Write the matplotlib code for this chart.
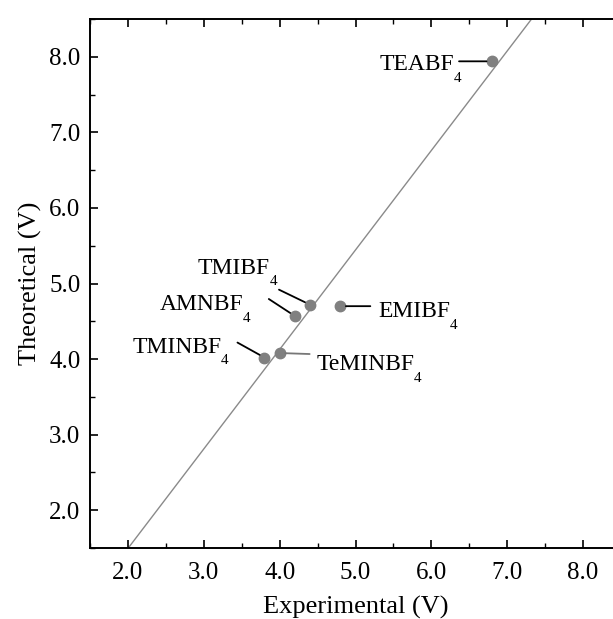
import numpy as np
import matplotlib
matplotlib.use('Agg')
import matplotlib.pyplot as plt
from matplotlib.ticker import MultipleLocator, FormatStrFormatter

plt.rcParams['font.family'] = ['Liberation Serif', 'DejaVu Serif']

# data
names = ['TEABF', 'TMIBF', 'AMNBF', 'EMIBF', 'TMINBF', 'TeMINBF']
experimental = [6.8, 4.4, 4.2, 4.8, 3.8, 4.0]
theoretical = [7.94, 4.72, 4.57, 4.70, 4.02, 4.08]

# label layout, pixel offsets from the point: (text dx, text dy, leader dx, leader dy, ha)
layout = {
    'TEABF':   (-38, -9, -33, 0, 'right'),
    'TMIBF':   (-112, 31, -31, 15, 'left'),
    'AMNBF':   (-135, 6, -26, 17, 'left'),
    'EMIBF':   (38, -11, 30, 0, 'left'),
    'TMINBF':  (-132, 5, -27, 15, 'left'),
    'TeMINBF': (37, -17, 30, -1, 'left'),
}

fig = plt.figure(figsize=(6.13, 6.19), dpi=100)
ax = fig.add_axes([90 / 613, 71 / 619, 531 / 613, 529 / 619])

x = np.array(experimental)
y = np.array(theoretical)

# least squares fit line across the whole frame
k, b = np.polyfit(x, y, 1)
xs = np.array([1.0, 9.0])
ax.plot(xs, k * xs + b, color='#8a8a8a', lw=1.0, zorder=1)

ax.plot(x, y, 'o', color='#808080', ms=7.5, zorder=3)

px = 0.72  # points per pixel at 100 dpi
for name, xi, yi in zip(names, experimental, theoretical):
    tdx, tdy, ldx, ldy, ha = layout[name]
    lc = '#777777' if name == 'TeMINBF' else 'black'
    ax.annotate('', xy=(xi, yi), xytext=(ldx * px, ldy * px), textcoords='offset points',
                arrowprops=dict(arrowstyle='-', color=lc, lw=1.3, shrinkA=0, shrinkB=4))
    t = ax.annotate(name, xy=(xi, yi), xytext=(tdx * px, tdy * px),
                    textcoords='offset points', ha=ha, va='baseline', fontsize=17)
    # subscript hangs below the baseline, right of the name
    ax.annotate('4', xy=(1, 0), xycoords=t, xytext=(-0.5, 2.5), textcoords='offset points',
                ha='left', va='top', fontsize=11)

ax.set_xlim(1.5, 8.5)
ax.set_ylim(1.5, 8.5)
for axis in (ax.xaxis, ax.yaxis):
    axis.set_major_locator(MultipleLocator(1))
    axis.set_minor_locator(MultipleLocator(0.5))
    axis.set_major_formatter(FormatStrFormatter('%.1f'))

ax.tick_params(which='both', direction='in', top=True, right=True, labelsize=18)
ax.tick_params(which='major', length=6, width=1.2)
ax.tick_params(which='minor', length=3.5, width=1.0)
ax.tick_params(axis='x', pad=10)
ax.tick_params(axis='y', pad=7)
for s in ax.spines.values():
    s.set_linewidth(1.4)

ax.set_xlabel('Experimental (V)', fontsize=19, labelpad=9)
ax.set_ylabel('Theoretical (V)', fontsize=19, labelpad=5)

fig.savefig('out.png', dpi=100)
